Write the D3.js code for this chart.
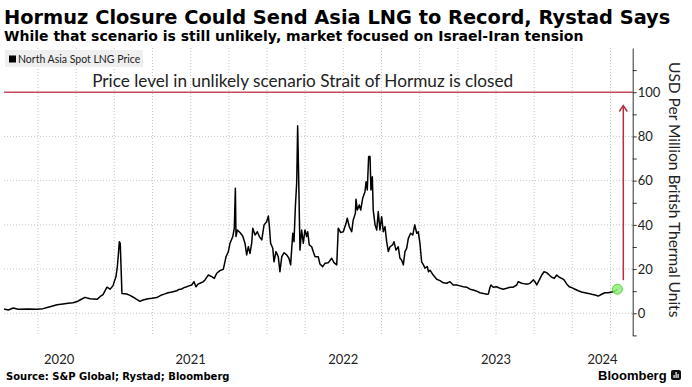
<!DOCTYPE html>
<html>
<head>
<meta charset="utf-8">
<script src="https://cdn.jsdelivr.net/npm/d3@7"></script>
<style>
body{margin:0;background:#fff;}
#chart{width:692px;height:387px;}
svg{display:block;}
</style>
</head>
<body>
<div id="chart"></div>
<script>

// ---- data ----
const title = "Hormuz Closure Could Send Asia LNG to Record, Rystad Says";
const subtitle = "While that scenario is still unlikely, market focused on Israel-Iran tension";
const source = "Source: S&P Global; Rystad; Bloomberg";
const seriesName = "North Asia Spot LNG Price";
const axisTitle = "USD Per Million British Thermal Units";
const scenarioText = "Price level in unlikely scenario Strait of Hormuz is closed";

// time as decimal years
const times = [
	2020.278,2020.306,2020.338,2020.369,2020.435,2020.494,2020.533,2020.579,2020.625,2020.664,
	2020.697,2020.730,2020.756,2020.775,2020.808,2020.841,2020.887,2020.906,2020.926,2020.952,
	2020.972,2020.991,2021.011,2021.020,2021.029,2021.033,2021.039,2021.050,2021.081,2021.103,
	2021.136,2021.168,2021.188,2021.221,2021.247,2021.278,2021.310,2021.332,2021.352,2021.378,
	2021.409,2021.424,2021.441,2021.457,2021.474,2021.489,2021.507,2021.522,2021.535,2021.548,
	2021.561,2021.581,2021.594,2021.616,2021.638,2021.655,2021.671,2021.692,2021.714,2021.732,
	2021.747,2021.758,2021.776,2021.786,2021.793,2021.797,2021.806,2021.823,2021.841,2021.856,
	2021.867,2021.878,2021.889,2021.900,2021.907,2021.922,2021.937,2021.950,2021.966,2021.981,
	2021.998,2022.009,2022.015,2022.024,2022.038,2022.046,2022.059,2022.074,2022.085,2022.097,
	2022.112,2022.129,2022.144,2022.155,2022.169,2022.177,2022.186,2022.195,2022.201,2022.208,
	2022.216,2022.227,2022.238,2022.249,2022.260,2022.267,2022.277,2022.293,2022.305,2022.315,
	2022.336,2022.347,2022.365,2022.380,2022.402,2022.424,2022.439,2022.457,2022.467,2022.483,
	2022.500,2022.518,2022.526,2022.539,2022.555,2022.565,2022.579,2022.583,2022.592,2022.605,
	2022.614,2022.627,2022.642,2022.649,2022.657,2022.666,2022.675,2022.681,2022.690,2022.696,
	2022.708,2022.719,2022.729,2022.740,2022.751,2022.762,2022.773,2022.784,2022.795,2022.806,
	2022.823,2022.832,2022.845,2022.860,2022.871,2022.882,2022.893,2022.904,2022.915,2022.926,
	2022.941,2022.955,2022.968,2022.981,2022.991,2023.002,2023.013,2023.024,2023.035,2023.050,
	2023.058,2023.068,2023.089,2023.112,2023.133,2023.155,2023.177,2023.199,2023.220,2023.243,
	2023.264,2023.286,2023.308,2023.330,2023.351,2023.374,2023.395,2023.417,2023.439,2023.450,
	2023.461,2023.467,2023.482,2023.505,2023.526,2023.548,2023.570,2023.592,2023.613,2023.636,
	2023.646,2023.668,2023.690,2023.712,2023.723,2023.744,2023.756,2023.767,2023.784,2023.800,
	2023.815,2023.832,2023.849,2023.865,2023.882,2023.898,2023.915,2023.931,2023.946,2023.963,
	2023.980,2023.996,2024.018,2024.039,2024.061,2024.083,2024.105,2024.127,2024.149,2024.170,
	2024.192,2024.214,2024.236,2024.258,2024.280,2024.295
];

// USD per MMBtu
const prices = [
	1.9,1.5,2.4,1.8,1.9,1.8,2.1,3.0,3.9,4.2,
	4.5,4.8,5.3,6.0,7.2,6.6,6.3,7.5,8.4,11.8,
	10.9,12.4,16.6,21.1,28.6,32.4,31.5,9.0,8.7,8.1,
	6.8,5.4,6.0,6.6,6.8,7.1,8.3,8.8,9.3,9.6,
	10.2,10.8,11.0,11.6,12.0,12.4,12.8,14.3,12.0,13.2,
	13.6,14.2,15.1,17.3,16.6,15.8,18.1,19.3,19.9,25.6,
	27.9,31.7,34.7,38.5,56.6,34.7,37.7,36.5,35.0,31.7,
	26.4,30.1,27.1,31.7,38.5,35.4,36.9,34.7,33.2,40.0,
	41.4,44.0,40.0,31.7,29.4,23.3,27.9,25.6,18.8,25.6,
	27.4,26.4,24.9,21.9,36.2,32.4,48.2,59.5,84.8,60.3,
	28.6,37.7,31.7,37.7,34.7,36.9,30.9,30.1,27.5,25.6,
	25.6,22.3,21.1,22.6,22.9,24.9,22.9,21.9,38.5,36.5,
	36.9,40.7,43.0,39.2,36.9,42.2,45.2,51.6,46.7,49.0,
	46.7,52.0,55.0,59.5,55.8,70.9,70.9,55.8,61.8,46.7,
	40.0,37.7,46.0,37.7,43.7,36.9,39.2,32.4,27.9,30.1,
	30.9,32.4,28.6,30.1,24.9,24.1,21.9,27.9,29.4,33.9,
	36.2,35.4,40.0,36.2,36.9,31.7,23.3,22.0,20.4,21.1,
	18.8,19.5,17.3,15.4,14.8,13.8,13.6,14.3,12.8,12.8,
	12.4,12.0,11.8,10.9,10.5,10.0,9.3,9.0,8.6,8.7,
	11.8,12.8,11.8,12.0,11.3,10.9,11.3,11.8,11.8,12.8,
	14.3,13.6,13.3,13.3,13.6,15.1,14.3,12.8,15.1,17.3,
	18.8,18.4,17.3,16.3,15.8,17.3,16.3,15.8,15.1,13.3,
	12.0,11.6,10.9,10.2,9.6,9.3,9.0,8.6,8.3,7.8,
	8.6,9.3,9.3,9.6,10.0,10.9
];

const xDomain = [2020.2775, 2024.3956];
const yDomain = [-10, 120];
const quarterTicks = [2020.5,2020.75,2021,2021.25,2021.5,2021.75,2022,2022.25,2022.5,2022.75,
	2023,2023.25,2023.5,2023.75,2024,2024.25];
const yearLabels = [2020, 2021, 2022, 2023, 2024];
const yGridTicks = [0, 20, 40, 60, 80];
const yLabelTicks = [0, 20, 40, 60, 80, 100];
const yAllTicks = [-10, 0, 10, 20, 30, 40, 50, 60, 70, 80, 90, 100, 110];

const scenarioLevel = 100;
const arrowTime = 2024.334;
const arrowFrom = 15;
const arrowTo = 94;

// ---- chart ----
function Linechart(rootDOM){

	const W = 692;
	const H = 387;
	const m = {t:48, l:4, b:51.6, r:59.3};
	const w = W - m.l - m.r;
	const h = H - m.t - m.b;

	const data = times.map((t, i) => ({t: t, v: prices[i]}));

	const scaleX = d3.scaleLinear()
					.domain(xDomain)
					.range([0, w]);

	const scaleY = d3.scaleLinear()
					.domain(yDomain)
					.range([h, 0]);

	const lineGenerator = d3.line()
							.x(d => scaleX(d.t))
							.y(d => scaleY(d.v));

	const svg = d3.select(rootDOM)
				.append("svg")
				.attr("width", W)
				.attr("height", H);

	// titles
	svg.append("text")
		.attr("x", 4).attr("y", 24)
		.style("font-family", "DejaVu Sans")
		.style("font-weight", "bold")
		.style("font-size", "19.4px")
		.text(title);
	svg.append("text")
		.attr("x", 4).attr("y", 41)
		.style("font-family", "DejaVu Sans")
		.style("font-weight", "bold")
		.style("font-size", "14px")
		.text(subtitle);

	const plot = svg.append("g")
					.attr("class", "plot")
					.attr("transform", `translate(${m.l},${m.t})`);

	// gridlines
	plot.append("g")
		.attr("class", "grid-x")
		.selectAll("line")
		.data(quarterTicks)
		.join("line")
		.attr("x1", d => scaleX(d)).attr("x2", d => scaleX(d))
		.attr("y1", 0).attr("y2", h)
		.style("stroke", "#c8c8c8")
		.style("stroke-dasharray", "1,2");

	plot.append("g")
		.attr("class", "grid-y")
		.selectAll("line")
		.data(yGridTicks)
		.join("line")
		.attr("x1", 0).attr("x2", w)
		.attr("y1", d => scaleY(d)).attr("y2", d => scaleY(d))
		.style("stroke", "#c8c8c8")
		.style("stroke-dasharray", "1,2");

	// legend
	const legend = svg.append("g")
					.attr("transform", "translate(5,50)");
	legend.append("rect")
		.attr("width", 138).attr("height", 17)
		.style("fill", "#efefef");
	legend.append("rect")
		.attr("x", 4).attr("y", 5.5).attr("width", 7).attr("height", 7)
		.style("fill", "#000");
	legend.append("text")
		.attr("x", 13).attr("y", 12.5)
		.style("font-family", "Lato")
		.style("font-size", "10.5px")
		.style("fill", "#222")
		.text(seriesName);

	// scenario line + text
	plot.append("line")
		.attr("x1", 0).attr("x2", w)
		.attr("y1", scaleY(scenarioLevel)).attr("y2", scaleY(scenarioLevel))
		.style("stroke", "#c64a5c")
		.style("stroke-width", 1.5);

	plot.append("text")
		.attr("x", scaleX(2020.855))
		.attr("y", scaleY(scenarioLevel) - 5)
		.style("font-family", "Lato")
		.style("font-size", "17.2px")
		.style("fill", "#222")
		.text(scenarioText);

	// price line
	plot.append("path")
		.datum(data)
		.attr("class", "line")
		.attr("d", lineGenerator)
		.style("fill", "none")
		.style("stroke", "#000")
		.style("stroke-width", "1.5px")
		.style("stroke-linejoin", "round");

	// arrow
	const ax = scaleX(arrowTime);
	plot.append("line")
		.attr("x1", ax).attr("x2", ax)
		.attr("y1", scaleY(arrowFrom)).attr("y2", scaleY(arrowTo))
		.style("stroke", "#b8303c")
		.style("stroke-width", 1.5);
	plot.append("path")
		.attr("d", `M${ax-4},${scaleY(arrowTo)+6}L${ax},${scaleY(arrowTo)}L${ax+4},${scaleY(arrowTo)+6}`)
		.style("fill", "none")
		.style("stroke", "#b8303c")
		.style("stroke-width", 1.5);

	// last point marker
	const last = data[data.length - 1];
	plot.append("circle")
		.attr("cx", scaleX(last.t)).attr("cy", scaleY(last.v))
		.attr("r", 5)
		.style("fill", "#8ff07a")
		.style("fill-opacity", 0.85)
		.style("stroke", "#5ccf4a");

	// right axis
	const axisY = d3.axisRight(scaleY)
					.tickValues(yAllTicks)
					.tickSize(4)
					.tickSizeOuter(0)
					.tickPadding(1)
					.tickFormat(d => yLabelTicks.includes(d) ? d : "");

	const gy = plot.append("g")
		.attr("class", "axis axis-y")
		.attr("transform", `translate(${w},0)`)
		.call(axisY);
	gy.select(".domain").style("stroke", "#333");
	gy.selectAll(".tick line").style("stroke", "#333");
	gy.selectAll("text")
		.style("font-family", "Lato")
		.style("font-size", "13px")
		.style("fill", "#222");

	plot.append("text")
		.attr("transform", `translate(${w + 36},${h / 2 - 2}) rotate(90)`)
		.attr("text-anchor", "middle")
		.style("font-family", "Lato")
		.style("font-size", "15.5px")
		.style("fill", "#222")
		.text(axisTitle);

	// year labels centred on visible part of each year
	plot.append("g")
		.selectAll("text")
		.data(yearLabels)
		.join("text")
		.attr("x", d => (scaleX(Math.max(d, xDomain[0])) + scaleX(Math.min(d + 1, xDomain[1]))) / 2)
		.attr("y", h + 29)
		.attr("text-anchor", "middle")
		.style("font-family", "Lato")
		.style("font-size", "13px")
		.style("fill", "#222")
		.text(d => d);

	// footer
	svg.append("text")
		.attr("x", 6).attr("y", 380)
		.style("font-family", "DejaVu Sans")
		.style("font-weight", "bold")
		.style("font-size", "10px")
		.text(source);

	svg.append("text")
		.attr("x", 598).attr("y", 380)
		.style("font-family", "Liberation Sans")
		.style("font-weight", "bold")
		.style("font-size", "13px")
		.text("Bloomberg");
	const logo = svg.append("g").attr("transform", "translate(671,370)");
	logo.append("rect").attr("width", 10).attr("height", 10).attr("rx", 2).style("fill", "#111");
	logo.selectAll(".bar")
		.data([[2.5, 5, 3], [4.5, 2, 6], [6.5, 4, 4]])
		.join("rect")
		.attr("x", d => d[0]).attr("y", d => d[1])
		.attr("width", 1.2).attr("height", d => d[2])
		.style("fill", "#fff");
}

Linechart(document.getElementById("chart"));
</script>
</body>
</html>
